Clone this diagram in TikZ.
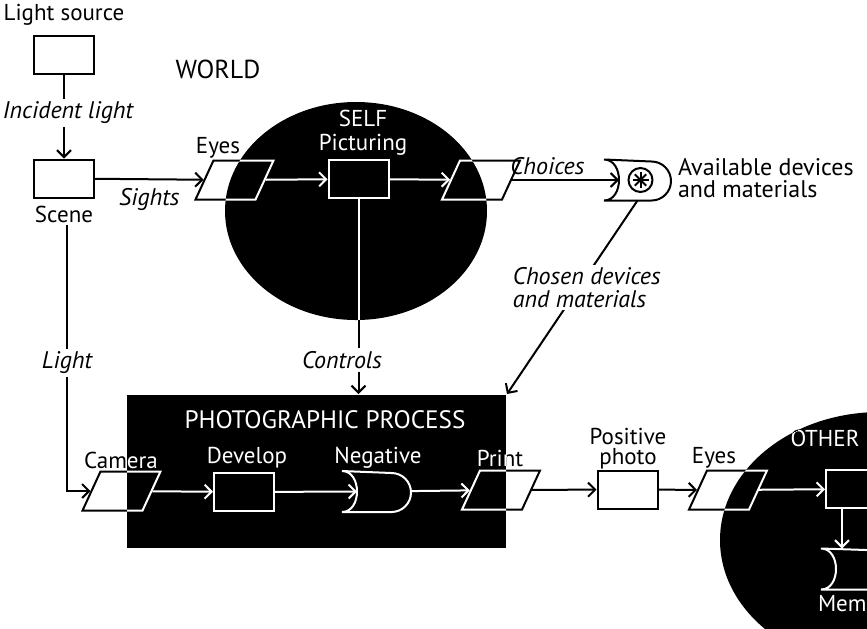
\documentclass[tikz,border=0pt]{standalone}
\usepackage{fontspec}
\setmainfont{PT Sans}
\usetikzlibrary{arrows.meta,shapes.geometric}

% outline of a store: hollow left side, round right end
\newcommand{\gateoutline}[1]{%
  \draw (#1.north west) .. controls ([xshift=10pt]#1.north west) and ([xshift=10pt]#1.south west) .. (#1.south west)
    -- ([xshift=-9.75pt]#1.south east) arc[start angle=-90, end angle=90, radius=9.75pt] -- cycle;}

% everything but the dark zones; drawn twice, black and then white inside the zones
\newcommand{\flowbody}{%
\node[box] (lamp) at (64,54.5) {};
\node at (64,15) {Light source};
\node[font=\fontsize{13}{13}\selectfont] at (218,69) {WORLD};
\node[note] (incid) at (68,113) {Incident light};
\node[box] (scene) at (64,178.5) {};
\node (scenetxt) at (64,214) {Scene};
\node[para] (eyes) at (234.5,180) {};
\node at (218,148) {Eyes};
\node at (363,118) {SELF};
\node at (363,145) {Picturing};
\node[box] (pict) at (358.5,179) {};
\node[para] (choose) at (481,180) {};
\node[gate=32.5pt] (avail) at (637.5,180) {};
\node[anchor=west, align=left, font=\fontsize{12}{11}\selectfont] at (675,178) {Available devices\\and materials};
\node[note] (ctrl) at (342,360) {Controls};
\node[note] (light) at (67,363) {Light};
\node[font=\fontsize{12.6}{13}\selectfont] at (325,420) {PHOTOGRAPHIC PROCESS};
\node[para] (cam) at (121.5,491) {};
\node at (121,460) {Camera};
\node[box] (dev) at (244,492) {};
\node at (247,458) {Develop};
\node[gate=33.5pt] (neg) at (376.5,491.5) {};
\node at (378,458) {Negative};
\node[para] (print) at (501,490) {};
\node at (500,458) {Print};
\node[box] (pos) at (627.5,489.5) {};
\node[align=center] at (628,449) {Positive\\photo};
\node[para] (eyes2) at (728,490) {};
\node at (714,458) {Eyes};
\node at (825,438) {OTHER};
\node[box, anchor=west] (brain) at (825,489) {};
\node[gate=39pt] (mem) at (861,569) {};
\node[anchor=west] at (815,604) {Mem};
%
\gateoutline{avail}
\gateoutline{neg}
\gateoutline{mem}
\coordinate (star) at ([xshift=1.5pt]avail.center);
\draw (star) circle[radius=6pt];
\foreach \a in {0,45,90,135} \draw (star) ++(\a:4pt) -- ++(\a+180:8pt);
%
\draw (lamp) -- (lamp |- incid.north);
\draw[->] (lamp |- incid.south) -- (scene);
\draw[->] (scene) -- node[note, below=3pt] {Sights} (eyes);
\draw[->] (eyes) -- (pict);
\draw[->] (pict) -- (choose);
\draw[->] (choose) -- node[note, above=1pt, pos=.33] {Choices} ([xshift=7.5pt]avail.west);
\draw (pict) -- (pict |- ctrl.north);
\draw[->] (pict |- ctrl.south) -- (pict |- photo.north);
\draw (light |- scenetxt.south) -- (light);
\draw[->] (light) |- (cam);
\draw[->] (cam) -- (dev);
\draw[->] (dev) -- ([xshift=7.5pt]neg.west);
\draw[->] (neg) -- (print);
\draw[->] (print) -- (pos);
\draw[->] (pos) -- (eyes2);
\draw[->] (eyes2) -- (brain);
\coordinate (drop) at ([xshift=8.5pt]brain.south west);
\draw[->] (drop) -- (drop |- mem.north);
}

\begin{document}
\begin{tikzpicture}[x=0.5pt, y=-0.5pt, line width=1pt,
  >={Straight Barb[length=3.5pt,width=7pt]},
  every node/.style={font=\fontsize{11.5}{10}\selectfont, inner sep=1pt},
  note/.style={font=\fontsize{12}{11.5}\selectfont\itshape},
  box/.style={draw, rectangle, minimum width=30pt, minimum height=19pt, inner sep=0pt},
  para/.style={draw, rectangle, xslant=0.46, minimum width=30pt, minimum height=19.5pt, inner sep=0pt},
  gate/.style={rectangle, minimum width=#1, minimum height=19.5pt, inner sep=0pt},
  zone/.style={fill=black, inner sep=0pt}
]
\useasboundingbox (0,0) rectangle (867,628);
\clip (0,0) rectangle (867,628);
\fill[white] (0,0) rectangle (867,628);

% dark zones
\node[zone, ellipse, minimum width=131pt, minimum height=109pt] (self) at (356,211) {};
\node[zone, ellipse, minimum width=160pt, minimum height=128pt] (other) at (880,540) {};
\node[zone, rectangle, minimum width=189.5pt, minimum height=76.5pt] (photo) at (316.5,471.5) {};

\begin{scope}[black]
\flowbody
\end{scope}
\begin{scope}[white]
\clip (356,211) ellipse[x radius=131, y radius=109]
      (880,540) ellipse[x radius=160, y radius=128]
      (127,395) rectangle (506,548);
\flowbody
\end{scope}

\draw[->] (avail.south) -- node[note, fill=white, align=left, pos=.45, xshift=4pt] {Chosen devices\\and materials} (photo.north east);
\end{tikzpicture}
\end{document}
